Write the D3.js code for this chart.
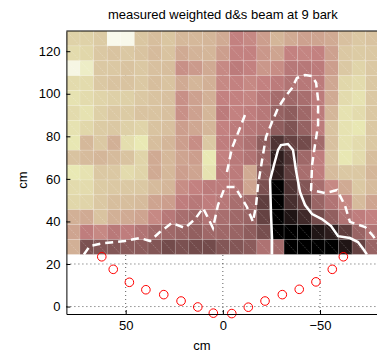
<!DOCTYPE html>
<html>
<head>
<meta charset="utf-8">
<script src="https://cdn.jsdelivr.net/npm/d3@7"></script>
<style>
  body { margin: 0; background: #fff; }
  svg { display: block; font-family: "Liberation Sans", Arial, sans-serif; }
</style>
</head>
<body>
<svg id="chart" width="377" height="356"></svg>
<script>
// cell centres (cm), 7 cm grid
var xCenters = [77, 70, 63, 56, 49, 42, 35, 28, 21, 14, 7, 0, -7, -14, -21, -28, -35, -42, -49, -56, -63, -70, -77];
var yCenters = [126, 119, 112, 105, 98, 91, 84, 77, 70, 63, 56, 49, 42, 35, 28];

// colormap index per cell (0 = dark, 1 = light), rows top to bottom
var level = [
  [0.65,0.65,0.62,0.93,0.92,0.60,0.57,0.60,0.55,0.55,0.54,0.50,0.38,0.40,0.46,0.54,0.50,0.47,0.48,0.50,0.58,0.61,0.59],
  [0.69,0.67,0.61,0.59,0.61,0.59,0.56,0.59,0.50,0.53,0.54,0.46,0.38,0.38,0.44,0.48,0.38,0.39,0.38,0.47,0.61,0.62,0.61],
  [0.90,0.80,0.61,0.61,0.59,0.61,0.58,0.57,0.42,0.45,0.50,0.40,0.35,0.38,0.44,0.41,0.33,0.33,0.35,0.46,0.61,0.66,0.61],
  [0.69,0.69,0.61,0.59,0.59,0.61,0.57,0.59,0.50,0.54,0.52,0.40,0.38,0.40,0.38,0.35,0.31,0.33,0.35,0.49,0.67,0.69,0.61],
  [0.72,0.69,0.66,0.64,0.64,0.61,0.59,0.58,0.42,0.47,0.52,0.38,0.38,0.39,0.33,0.27,0.25,0.28,0.35,0.50,0.69,0.72,0.61],
  [0.69,0.72,0.64,0.61,0.62,0.59,0.59,0.58,0.42,0.47,0.54,0.35,0.38,0.36,0.33,0.22,0.20,0.25,0.35,0.54,0.72,0.69,0.61],
  [0.72,0.67,0.62,0.61,0.64,0.66,0.59,0.58,0.46,0.49,0.54,0.38,0.35,0.33,0.31,0.20,0.16,0.22,0.35,0.59,0.72,0.74,0.61],
  [0.74,0.55,0.61,0.52,0.70,0.75,0.57,0.54,0.46,0.41,0.61,0.36,0.33,0.30,0.20,0.06,0.10,0.13,0.26,0.58,0.72,0.69,0.61],
  [0.59,0.56,0.54,0.56,0.59,0.66,0.50,0.55,0.48,0.46,0.75,0.38,0.34,0.31,0.23,0.02,0.06,0.25,0.36,0.59,0.74,0.69,0.57],
  [0.75,0.72,0.61,0.61,0.69,0.66,0.50,0.55,0.46,0.48,0.72,0.35,0.35,0.50,0.19,0.02,0.09,0.28,0.36,0.56,0.61,0.61,0.54],
  [0.69,0.69,0.62,0.61,0.61,0.61,0.56,0.54,0.41,0.38,0.35,0.35,0.33,0.48,0.15,0.00,0.06,0.17,0.28,0.40,0.50,0.61,0.56],
  [0.67,0.66,0.61,0.57,0.57,0.56,0.48,0.46,0.36,0.33,0.36,0.33,0.28,0.25,0.09,0.00,0.05,0.09,0.23,0.31,0.40,0.56,0.48],
  [0.52,0.50,0.59,0.52,0.50,0.48,0.40,0.33,0.28,0.25,0.31,0.28,0.25,0.23,0.10,0.00,0.01,0.04,0.13,0.21,0.31,0.36,0.38],
  [0.48,0.36,0.40,0.34,0.36,0.31,0.26,0.25,0.23,0.21,0.25,0.25,0.23,0.20,0.14,0.00,0.00,0.00,0.01,0.02,0.09,0.23,0.31],
  [0.52,0.15,0.17,0.17,0.19,0.19,0.17,0.13,0.15,0.13,0.13,0.17,0.17,0.19,0.30,0.26,0.00,0.00,0.00,0.00,0.01,0.10,0.23]
];

// contour lines, [x cm, y cm]
var dashedContour = [[71.5,24.5],[68.4,28.5],[60.7,29.9],[50.4,30.8],[42.7,32.2],[37.5,30.8],[32.4,35.0],[26.2,39.3],[19.5,36.9],[14.3,41.1],[10.2,46.3],[7.6,41.6],[5.1,36.9],[2.5,47.7],[-1.1,56.2],[-6.3,56.2],[-12.4,46.8],[-15.5,39.8],[-17.1,47.7],[-18.1,57.1],[-20.2,68.9],[-22.2,79.7],[-25.3,86.7],[-28.4,93.3],[-32.0,98.5],[-35.6,102.7],[-38.1,107.4],[-42.3,108.8],[-45.9,108.3],[-48.0,105.1],[-49.0,97.1],[-49.0,85.3],[-47.4,75.9],[-45.9,66.5],[-45.4,54.8],[-52.6,53.3],[-58.8,54.8],[-62.9,47.3],[-65.4,39.8],[-73.2,37.4],[-77.3,33.2],[-80.9,28.5]];
var dashedFinger = [[-2.1,63.2],[-4.7,74.5],[-8.8,83.9],[-11.8,91.0]];
var solidContour = [[-25.3,24.5],[-25.3,32.0],[-24.8,42.9],[-24.3,59.4],[-26.3,66.5],[-28.4,73.6],[-29.9,75.9],[-33.5,76.4],[-36.1,73.6],[-37.6,64.2],[-39.7,53.8],[-42.3,47.7],[-45.9,43.5],[-51.0,41.1],[-55.7,37.8],[-59.3,33.1],[-65.4,32.2],[-69.5,30.3],[-72.6,26.6],[-74.1,24.5]];

// loudspeaker positions
var spkX = [62.3, 56.4, 48.1, 39.6, 30.4, 21.5, 12.9, 4.9, -4.6, -13.1, -21.7, -30.6, -39.3, -47.9, -56.3, -62.0];
var spkY = [23.4, 17.5, 11.4, 7.9, 5.6, 2.6, -0.2, -3.1, -3.3, -0.3, 2.6, 5.6, 8.1, 11.6, 17.5, 23.4];

var xTicks = [50, 0, -50];
var yTicks = [0, 20, 40, 60, 80, 100, 120];
var cell = 7;

var svg = d3.select("#chart");
var x = d3.scaleLinear().domain([80.5, -80.5]).range([66.4, 379.3]);
var y = d3.scaleLinear().domain([-3.5, 129.5]).range([314, 31]);

function pink(t) {
  var r = Math.min(1, t / 0.375),
      g = Math.max(0, Math.min(1, (t - 0.375) / 0.375)),
      b = Math.max(0, Math.min(1, (t - 0.75) / 0.25));
  return d3.rgb(255 * Math.sqrt((2 * t + r) / 3), 255 * Math.sqrt((2 * t + g) / 3), 255 * Math.sqrt((2 * t + b) / 3)) + "";
}
var color = d3.scaleSequential(pink).domain([0, 1]);

svg.append("clipPath").attr("id", "clip")
  .append("rect").attr("x", 66.4).attr("y", 31).attr("width", 313).attr("height", 283);

// dotted grid
var grid = svg.append("g");
grid.selectAll(".gx").data(xTicks).enter().append("line")
  .attr("x1", d => x(d)).attr("x2", d => x(d)).attr("y1", 31).attr("y2", 314)
  .attr("stroke", "#333").attr("stroke-width", 0.8).attr("stroke-dasharray", "1,3");
grid.selectAll(".gy").data(yTicks).enter().append("line")
  .attr("x1", 66.4).attr("x2", 379.3).attr("y1", d => y(d)).attr("y2", d => y(d))
  .attr("stroke", "#333").attr("stroke-width", 0.8).attr("stroke-dasharray", "1,3");

// heatmap
var cells = [];
level.forEach((row, r) => row.forEach((v, c) => cells.push({ xc: xCenters[c], yc: yCenters[r], v: v })));
var heat = svg.append("g").attr("clip-path", "url(#clip)");
heat.selectAll("rect").data(cells).enter().append("rect")
  .attr("x", d => x(d.xc + cell / 2))
  .attr("y", d => y(d.yc + cell / 2))
  .attr("width", d => x(d.xc - cell / 2) - x(d.xc + cell / 2))
  .attr("height", d => y(d.yc - cell / 2) - y(d.yc + cell / 2))
  .attr("fill", d => color(d.v))
  .attr("stroke", "rgba(255,255,255,0.22)").attr("stroke-width", 0.6);
heat.selectAll("line").data(cells).enter().append("line")
  .attr("x1", d => x(d.xc + cell / 2)).attr("y1", d => y(d.yc + cell / 2))
  .attr("x2", d => x(d.xc - cell / 2)).attr("y2", d => y(d.yc - cell / 2))
  .attr("stroke", "rgba(255,255,255,0.35)").attr("stroke-width", 0.6)
  .attr("stroke-dasharray", "1.5,1");

// contours
var line = d3.line().x(d => x(d[0])).y(d => y(d[1]));
var cont = svg.append("g").attr("clip-path", "url(#clip)");
[dashedContour, dashedFinger].forEach(p => cont.append("path").attr("d", line(p))
  .attr("fill", "none").attr("stroke", "#fff").attr("stroke-width", 2.5)
  .attr("stroke-dasharray", "8,5"));
cont.append("path").attr("d", line(solidContour))
  .attr("fill", "none").attr("stroke", "#fff").attr("stroke-width", 2.5);

// loudspeakers
svg.append("g").selectAll("circle").data(spkX).enter().append("circle")
  .attr("cx", d => x(d)).attr("cy", (d, i) => y(spkY[i])).attr("r", 4.3)
  .attr("fill", "none").attr("stroke", "#f00").attr("stroke-width", 1);

// axes
var xAxis = d3.axisBottom(x).tickValues(xTicks).tickSizeInner(-4).tickSizeOuter(0)
  .tickFormat(d => d < 0 ? "\u2212" + Math.abs(d) : d);
var yAxis = d3.axisLeft(y).tickValues(yTicks).tickSizeInner(-4).tickSizeOuter(0);
var gx = svg.append("g").attr("transform", "translate(0,314)").call(xAxis);
var gy = svg.append("g").attr("transform", "translate(66.4,0)").call(yAxis);
[gx, gy].forEach(g => {
  g.select(".domain").attr("stroke", "#000").attr("stroke-width", 1);
  g.selectAll(".tick line").attr("stroke", "#000");
  g.selectAll(".tick text").attr("font-size", 13).attr("fill", "#000")
    .attr("font-family", "'Liberation Sans', Arial, sans-serif");
});
gx.selectAll(".tick text").attr("y", 7).attr("dy", "0.71em");
gy.selectAll(".tick text").attr("x", -6);
svg.append("line").attr("x1", 66.4).attr("x2", 379.3).attr("y1", 31).attr("y2", 31)
  .attr("stroke", "#000").attr("stroke-width", 1);

// labels
svg.append("text").attr("x", 222.8).attr("y", 19).attr("text-anchor", "middle")
  .attr("font-size", 13).text("measured weighted d&s beam at 9 bark");
svg.append("text").attr("x", 202).attr("y", 350).attr("text-anchor", "middle")
  .attr("font-size", 13).text("cm");
svg.append("text").attr("transform", "translate(27,180) rotate(-90)").attr("text-anchor", "middle")
  .attr("font-size", 13).text("cm");
</script>
</body>
</html>
